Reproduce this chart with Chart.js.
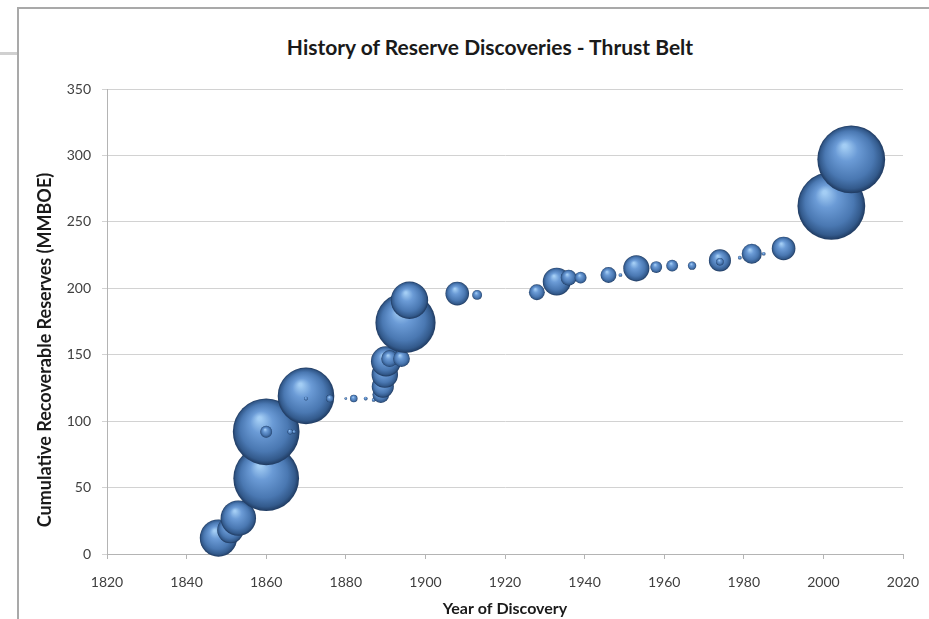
<!DOCTYPE html>
<html>
<head>
<meta charset="utf-8">
<script src="https://cdn.jsdelivr.net/npm/chart.js@4.4.1/dist/chart.umd.min.js"></script>
<style>
    html, body { margin: 0; padding: 0; background: #fff; }
    body { width: 929px; height: 619px; position: relative; overflow: hidden; font-family: Lato, sans-serif; }
    #frame { position: absolute; left: 17px; top: 7px; width: 940px; height: 640px; border-left: 2px solid #a9a9a9; border-top: 2px solid #a9a9a9; }
    #stub { position: absolute; left: 0; top: 52px; width: 17px; height: 3px; background: #d0d0d0; }
    #title { position: absolute; left: 0; top: 34px; width: 980px; text-align: center; font: bold 21px Lato, sans-serif; color: #1a1a1a; }
    #wrap { position: absolute; left: 0; top: 0; width: 929px; height: 619px; }
</style>
</head>
<body>
<div id="stub"></div>
<div id="frame"></div>
<div id="title">History of Reserve Discoveries - Thrust Belt</div>
<div id="wrap"><canvas id="reserveChart"></canvas></div>

<script>
// Данные: год открытия, накопленные запасы (MMBOE), размер открытия (MMBOE)
const years = [1848, 1851, 1853, 1860, 1860, 1860, 1866, 1867, 1870, 1870,
               1876, 1880, 1882, 1885, 1887, 1888.8, 1889.3, 1889.8, 1890.1, 1891,
               1894, 1895, 1896, 1908, 1913, 1928, 1933, 1936, 1939, 1946,
               1949, 1953, 1958, 1962, 1967, 1974, 1974, 1979, 1982, 1985,
               1990, 2002, 2007];
const reserves = [12, 18, 27, 57, 92, 92, 92, 92, 119, 117,
                  117, 117, 117, 117, 116, 120, 126, 135, 145, 147,
                  147, 174, 191, 196, 195, 197, 205, 208, 208, 210,
                  210, 215, 216, 217, 217, 221, 220, 223, 226, 226,
                  230, 262, 297];
const sizes = [10, 5, 9, 31, 32, 1, 0.2, 0.1, 23, 0.1,
               0.4, 0.05, 0.4, 0.1, 0.1, 2, 3.5, 5, 6.5, 2,
               2, 26, 10, 4, 0.7, 1.8, 5.6, 1.8, 1, 1.8,
               0.1, 4.9, 1, 1, 0.5, 3.5, 0.4, 0.1, 2.9, 0.1,
               4, 33, 33];
const yearTicks = [1820, 1840, 1860, 1880, 1900, 1920, 1940, 1960, 1980, 2000, 2020];
const reserveTicks = [0, 50, 100, 150, 200, 250, 300, 350];
const yAxisTitle = 'Cumulative Recoverable Reserves (MMBOE)';

document.addEventListener('DOMContentLoaded', () => {
    initReserveChart();
});

// объёмная заливка пузырька
function sphereFill(c) {
    const chart = c.chart;
    const raw = c.raw;
    if (!raw || !chart.chartArea) return '#4f81bd';
    const x = chart.scales.x.getPixelForValue(raw.x);
    const y = chart.scales.y.getPixelForValue(raw.y);
    const r = Math.max(raw.r, 1);
    const g = chart.ctx.createRadialGradient(x - r * 0.2, y - r * 0.4, r * 0.05, x, y, r);
    g.addColorStop(0, '#a3cdf4');
    g.addColorStop(0.3, '#6b9bd6');
    g.addColorStop(0.7, '#4a78b2');
    g.addColorStop(0.9, '#335a8c');
    g.addColorStop(1, '#1f3a60');
    return g;
}

// подпись оси Y рисуем сами, чтобы поставить её как в оригинале
const yTitlePlugin = {
    id: 'yTitle',
    afterDraw(chart) {
        const c = chart.ctx;
        c.save();
        c.translate(45, 350);
        c.rotate(-Math.PI / 2);
        c.font = 'bold 18px Lato';
        c.fillStyle = '#1a1a1a';
        c.textAlign = 'center';
        c.textBaseline = 'middle';
        c.fillText(yAxisTitle, 0, 0);
        c.restore();
    }
};

function initReserveChart() {
    const ctx = document.getElementById('reserveChart')?.getContext('2d');
    if (!ctx) return;

    const points = years.map((yr, i) => ({
        x: yr,
        y: reserves[i],
        r: 5.9 * Math.sqrt(sizes[i])
    }));

    new Chart(ctx, {
        type: 'bubble',
        data: {
            datasets: [{
                label: 'Discoveries',
                data: points,
                backgroundColor: sphereFill,
                borderWidth: 0,
                clip: false
            }]
        },
        options: {
            responsive: true,
            maintainAspectRatio: false,
            animation: false,
            events: [],
            layout: {
                autoPadding: false,
                padding: { left: 18, right: 26, top: 89, bottom: 0 }
            },
            plugins: {
                legend: { display: false },
                tooltip: { enabled: false }
            },
            scales: {
                x: {
                    type: 'linear',
                    min: 1820,
                    max: 2020,
                    afterBuildTicks: (s) => { s.ticks = yearTicks.map(v => ({ value: v })); },
                    afterFit: (s) => { s.height = 65; },
                    grid: {
                        drawOnChartArea: false,
                        drawTicks: true,
                        tickLength: 5,
                        color: '#b4b4b4'
                    },
                    border: { color: '#b4b4b4' },
                    ticks: {
                        color: '#404040',
                        padding: 3,
                        font: { family: 'Lato', size: 14, lineHeight: 2.9 },
                        callback: (v) => String(v)
                    },
                    title: {
                        display: true,
                        text: 'Year of Discovery',
                        color: '#1a1a1a',
                        font: { family: 'Lato', size: 16, weight: 'bold' },
                        padding: { top: 0, bottom: 1 }
                    }
                },
                y: {
                    min: 0,
                    max: 350,
                    afterBuildTicks: (s) => { s.ticks = reserveTicks.map(v => ({ value: v })); },
                    afterFit: (s) => { s.width = 89; },
                    grid: {
                        color: '#d2d2d2',
                        tickLength: 5
                    },
                    border: { color: '#b4b4b4' },
                    ticks: {
                        color: '#404040',
                        padding: 11,
                        font: { family: 'Lato', size: 14 }
                    }
                }
            }
        },
        plugins: [yTitlePlugin]
    });
}
</script>
</body>
</html>
